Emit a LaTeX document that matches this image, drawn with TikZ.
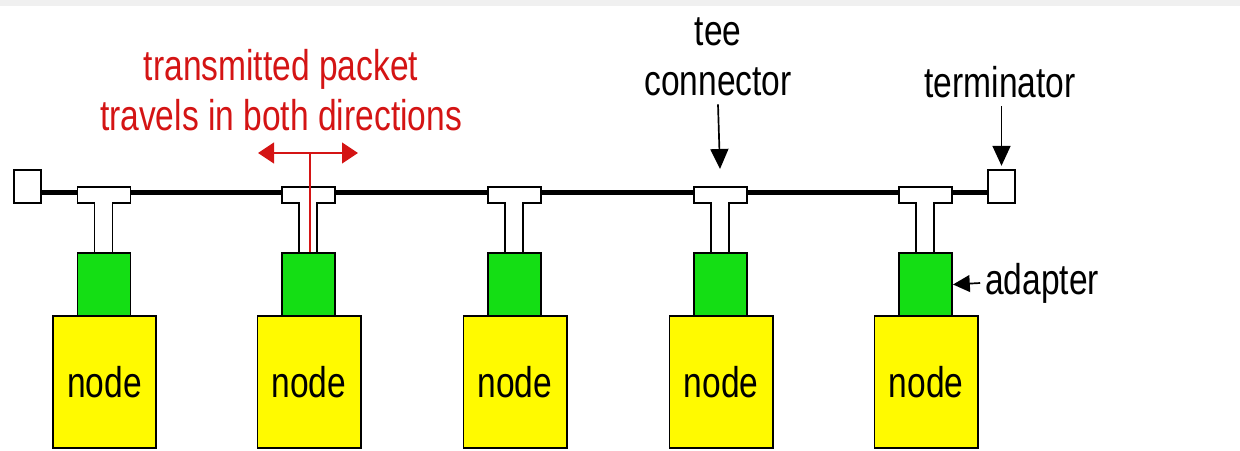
\documentclass[tikz,border=0pt]{standalone}
\usepackage{fontspec}
\setmainfont{Liberation Sans}
\newfontfamily\labelfont[FakeStretch=0.78]{Liberation Sans}
\usetikzlibrary{arrows.meta}
\definecolor{adaptergreen}{RGB}{20,222,20}
\definecolor{hostyellow}{RGB}{255,250,0}
\definecolor{packetred}{RGB}{212,20,20}

\begin{document}
\begin{tikzpicture}[x=0.025cm,y=-0.025cm,
  lbl/.style={font=\labelfont\fontsize{30.6}{35.6}\selectfont,inner sep=0pt,align=center},
  term/.style={draw,line width=1.4pt,fill=white,minimum width=0.675cm,minimum height=0.825cm,inner sep=0pt},
  adp/.style={draw,line width=1.4pt,fill=adaptergreen,minimum width=1.325cm,minimum height=1.575cm,inner sep=0pt},
  host/.style={draw,line width=1.4pt,fill=hostyellow,minimum width=2.575cm,minimum height=3.3cm,lbl},
  tee/.style={draw,line width=1.4pt,fill=white},
  bus/.style={line width=3.6pt},
  ptr/.style={line width=1.2pt,-{Triangle[length=0.5cm,width=0.45cm]}},
  smallptr/.style={line width=1.2pt,-{Triangle[length=0.42cm,width=0.42cm]}},
  packet/.style={line width=1.2pt,draw=packetred}]
\useasboundingbox (0,0) rectangle (1240,450);
\fill[gray!12] (0,0) rectangle (1240,6);

% cable with its two terminators
\node[term] (lterm) at (27.5,186.5) {};
\node[term] (rterm) at (1001.5,186.5) {};
\draw[bus] ([yshift=-0.15cm]lterm.east) -- ([yshift=-0.15cm]rterm.west);

% tee, adapter and host for each station
\foreach \i/\cx in {1/103.5,2/308,3/514,4/720,5/925}{
  \draw[tee] ({\cx-26},187) -- ({\cx+27},187) -- ({\cx+27},203) -- ({\cx+9},203)
    -- ({\cx+9},253) -- ({\cx-9},253) -- ({\cx-9},203) -- ({\cx-26},203) -- cycle;
  \coordinate (teetop\i) at (\cx,187);
  \node[adp] (adp\i) at ({\cx+0.5},284.5) {};
  \node[host] (host\i) at ({\cx+1},382) {node};
}

% packet travelling both ways
\coordinate (split) at (310,153);
\coordinate (pl) at (258,153);
\coordinate (pr) at (358,153);
\draw[packet] (adp2.north -| split) -- (split);
\draw[packet,{Triangle[length=0.4cm,width=0.52cm]}-{Triangle[length=0.4cm,width=0.52cm]},fill=packetred] (pl) -- (pr);
\node[lbl,text=packetred] (packetlbl) at (281,90) {transmitted packet\\travels in both directions};

% labels
\node[lbl] (teelbl) at (718,57) {tee\\connector};
\draw[ptr] ([yshift=-0.2cm]teelbl.south) -- ([yshift=0.45cm]teetop4);
\node[lbl] (termlbl) at (1000,82) {terminator};
\draw[ptr] ([yshift=-0.2cm]termlbl.south -| rterm.north) -- ([yshift=0.08cm]rterm.north);
\node[lbl,anchor=west] (adplbl) at (985,283) {adapter};
\draw[smallptr] ([xshift=-0.12cm]adplbl.west) -- (adp5.east);
\end{tikzpicture}
\end{document}
